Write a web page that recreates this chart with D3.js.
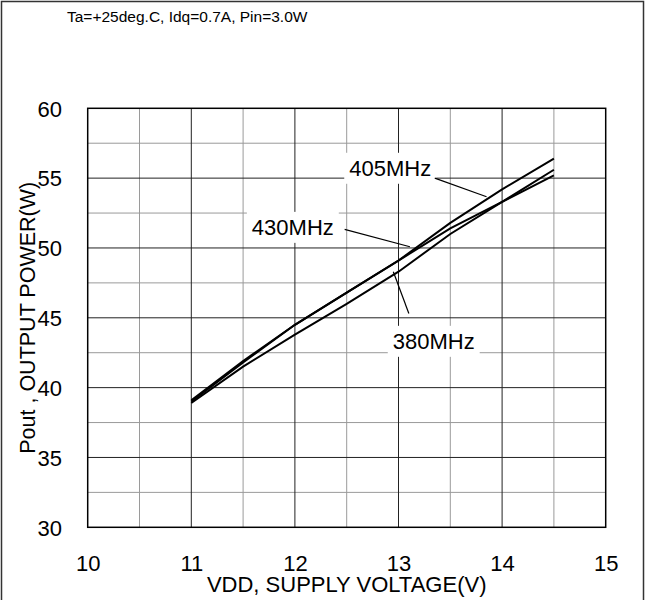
<!DOCTYPE html>
<html><head><meta charset="utf-8">
<script src="https://cdn.jsdelivr.net/npm/d3@7"></script>
<style>body{margin:0;background:#fff}svg{display:block}text{font-family:"Liberation Sans",Arial,sans-serif;fill:#000}</style>
</head><body><svg id="c" width="646" height="600"></svg>
<script>
const voltages = [11, 11.5, 12, 12.5, 13, 13.5, 14, 14.5];
const p405 = [39.0, 41.8, 44.5, 46.8, 49.1, 51.8, 54.2, 56.4];
const p430 = [39.1, 41.9, 44.5, 46.8, 49.1, 51.4, 53.3, 55.2];
const p380 = [38.9, 41.5, 43.8, 46.0, 48.3, 51.0, 53.3, 55.6];
const xTicks = [10, 11, 12, 13, 14, 15];
const yTicks = [30, 35, 40, 45, 50, 55, 60];
const seriesNames = ["405MHz", "430MHz", "380MHz"];
// label anchors in data units: [textX, textY, leaderFromX, leaderFromY, leaderToX, leaderToY]
const labelAnchors = [
  [12.92, 55.72, 13.35, 55.0, 13.85, 53.67],
  [11.98, 51.49, 12.48, 51.33, 13.11, 50.09],
  [13.34, 43.33, 13.10, 45.31, 12.95, 48.30]
];
const note = "Ta=+25deg.C, Idq=0.7A, Pin=3.0W";
const xTitle = "VDD, SUPPLY VOLTAGE(V)";
const yTitle = "Pout , OUTPUT POWER(W)";

const svg = d3.select("#c");
const L = 87.7, R = 605.7, T = 108.3, B = 527.3;
const x = d3.scaleLinear().domain([10, 15]).range([L, R]);
const y = d3.scaleLinear().domain([30, 60]).range([B, T]);

svg.append("rect").attr("x", 1.5).attr("y", 1.5).attr("width", 642).attr("height", 602)
  .attr("fill", "none").attr("stroke", "#333").attr("stroke-width", 1.5);

svg.append("text").attr("x", 67).attr("y", 22).style("font-size", "15.5px").text(note);

const g = svg.append("g");
// minor grid
const xMinor = d3.range(10.5, 15, 1);
const yMinor = d3.range(32.5, 60, 5);
g.selectAll(".xm").data(xMinor).join("line").attr("x1", d => x(d)).attr("x2", d => x(d))
  .attr("y1", T).attr("y2", B).attr("stroke", "#9a9a9a").attr("stroke-width", 1);
g.selectAll(".ym").data(yMinor).join("line").attr("y1", d => y(d)).attr("y2", d => y(d))
  .attr("x1", L).attr("x2", R).attr("stroke", "#9a9a9a").attr("stroke-width", 1);
// major grid
g.selectAll(".xM").data(xTicks.slice(1, -1)).join("line").attr("x1", d => x(d)).attr("x2", d => x(d))
  .attr("y1", T).attr("y2", B).attr("stroke", "#222").attr("stroke-width", 1);
g.selectAll(".yM").data(yTicks.slice(1, -1)).join("line").attr("y1", d => y(d)).attr("y2", d => y(d))
  .attr("x1", L).attr("x2", R).attr("stroke", "#222").attr("stroke-width", 1);

// axes (labels only)
const xAxis = d3.axisBottom(x).tickValues(xTicks).tickSize(0).tickPadding(0).tickFormat(d3.format("d"));
const xa = svg.append("g").attr("transform", `translate(0,${B})`).call(xAxis);
xa.select(".domain").remove();
xa.selectAll("text").attr("dy", null).attr("y", 43.5).style("font-size", "22px").style("font-family", "Liberation Sans, Arial");
const yAxis = d3.axisLeft(y).tickValues(yTicks).tickSize(0).tickPadding(0).tickFormat(d3.format("d"));
const ya = svg.append("g").attr("transform", `translate(62,0)`).call(yAxis);
ya.select(".domain").remove();
ya.selectAll("text").attr("x", 0).attr("dy", "0.35em").style("font-size", "22px").style("font-family", "Liberation Sans, Arial");

svg.append("text").attr("x", (L + R) / 2).attr("y", 591.5).attr("text-anchor", "middle").style("font-size", "22px").text(xTitle);
svg.append("text").attr("transform", `translate(35,${(T + B) / 2}) rotate(-90)`).attr("text-anchor", "middle").style("font-size", "21.5px").text(yTitle);

// curves
const line = d3.line().x((d, i) => x(voltages[i])).y(d => y(d));
[p405, p430, p380].forEach(s => {
  svg.append("path").attr("d", line(s)).attr("fill", "none").attr("stroke", "#000").attr("stroke-width", 2);
});

// labels
labelAnchors.forEach((a, i) => {
  const t = svg.append("text").attr("x", x(a[0])).attr("y", y(a[1])).attr("dy", "0.35em")
    .attr("text-anchor", "middle").style("font-size", "22px").text(seriesNames[i]);
  const bb = t.node().getBBox();
  svg.insert("rect", () => t.node()).attr("x", bb.x - 5).attr("y", bb.y - 3).attr("width", bb.width + 10).attr("height", bb.height + 6).attr("fill", "#fff");
  svg.append("line").attr("x1", x(a[2])).attr("y1", y(a[3])).attr("x2", x(a[4])).attr("y2", y(a[5]))
    .attr("stroke", "#000").attr("stroke-width", 1.2);
});
// plot border
svg.append("rect").attr("x", L).attr("y", T).attr("width", R - L).attr("height", B - T)
  .attr("fill", "none").attr("stroke", "#000").attr("stroke-width", 1.5);
</script></body></html>
